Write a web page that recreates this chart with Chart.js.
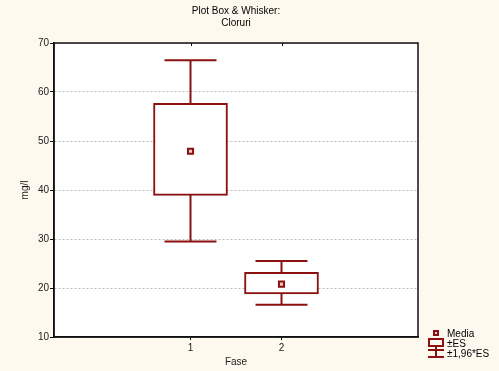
<!DOCTYPE html>
<html>
<head>
<meta charset="utf-8">
<script src="https://cdn.jsdelivr.net/npm/chart.js@4/dist/chart.umd.min.js"></script>
<style>
    body { margin: 0; background: #fdf9ef; }
    #wrap { width: 499px; height: 371px; }
</style>
</head>
<body>
<div id="wrap"><canvas id="boxChart" width="499" height="371"></canvas></div>
<script>
// values
const phases = [1, 2];
const means = [47.9, 20.8];
const esLow = [38.9, 18.8];
const esHigh = [57.7, 23.2];
const ciLow = [29.5, 16.6];
const ciHigh = [66.5, 25.5];
const yTicks = [10, 20, 30, 40, 50, 60, 70];

const RED = '#8b1010';
const FONT = "'Liberation Sans', Arial, sans-serif";

// white plot area + outer frame
const frame = {
    id: 'frame',
    beforeDraw(chart) {
        const { ctx, chartArea: a } = chart;
        ctx.save();
        ctx.fillStyle = '#fff';
        ctx.fillRect(a.left, a.top, a.right - a.left, a.bottom - a.top);
        ctx.restore();
    },
    afterDraw(chart) {
        const { ctx, chartArea: a, scales } = chart;
        ctx.save();
        ctx.strokeStyle = '#111';
        ctx.lineWidth = 1.5;
        ctx.strokeRect(a.left, a.top, a.right - a.left, a.bottom - a.top);
        // small tick marks on the top edge
        ctx.lineWidth = 1;
        phases.forEach(p => {
            const x = Math.round(scales.x.getPixelForValue(p)) + 0.5;
            ctx.beginPath();
            ctx.moveTo(x, a.top);
            ctx.lineTo(x, a.top + 3);
            ctx.stroke();
        });
        ctx.restore();
    }
};

// whiskers (±1,96*ES)
const whiskers = {
    id: 'whiskers',
    beforeDatasetsDraw(chart) {
        const { ctx, scales: { x, y } } = chart;
        ctx.save();
        ctx.strokeStyle = RED;
        ctx.lineWidth = 2;
        phases.forEach((p, i) => {
            const cx = x.getPixelForValue(p);
            const top = y.getPixelForValue(ciHigh[i]);
            const bot = y.getPixelForValue(ciLow[i]);
            ctx.beginPath();
            ctx.moveTo(cx, top);
            ctx.lineTo(cx, bot);
            ctx.moveTo(cx - 26, top);
            ctx.lineTo(cx + 26, top);
            ctx.moveTo(cx - 26, bot);
            ctx.lineTo(cx + 26, bot);
            ctx.stroke();
        });
        ctx.restore();
    }
};

// legend in the lower right corner
const legendBox = {
    id: 'legendBox',
    afterDraw(chart) {
        const ctx = chart.ctx;
        ctx.save();
        ctx.strokeStyle = RED;
        ctx.fillStyle = '#e8c8c8';
        ctx.lineWidth = 2;
        ctx.fillRect(434, 331, 4, 4);
        ctx.strokeRect(434, 331, 4, 4);
        ctx.strokeRect(429, 339, 14, 7);
        ctx.beginPath();
        ctx.moveTo(436, 346);
        ctx.lineTo(436, 357);
        ctx.moveTo(428, 350);
        ctx.lineTo(444, 350);
        ctx.moveTo(428, 357);
        ctx.lineTo(444, 357);
        ctx.stroke();
        ctx.fillStyle = '#000';
        ctx.font = '10px ' + FONT;
        ctx.textBaseline = 'middle';
        ctx.fillText('Media', 447, 334);
        ctx.fillText('±ES', 447, 344);
        ctx.fillText('±1,96*ES', 447, 354);
        ctx.restore();
    }
};

new Chart(document.getElementById('boxChart'), {
    data: {
        datasets: [{
            type: 'bar',
            label: '±ES',
            order: 2,
            data: phases.map((p, i) => ({ x: p, y: [esLow[i], esHigh[i]] })),
            backgroundColor: '#fff',
            borderColor: RED,
            borderWidth: 2,
            borderSkipped: false,
            barThickness: 74
        }, {
            type: 'scatter',
            label: 'Media',
            order: 1,
            data: phases.map((p, i) => ({ x: p, y: means[i] })),
            pointStyle: 'rect',
            pointRadius: 3.6,
            backgroundColor: '#e8c8c8',
            borderColor: RED,
            borderWidth: 2
        }]
    },
    options: {
        responsive: false,
        animation: false,
        layout: { padding: { left: 0, right: 81, top: 0, bottom: 0 } },
        plugins: {
            legend: { display: false },
            tooltip: { enabled: false },
            title: {
                display: true,
                fullSize: false,
                text: ['Plot Box & Whisker:', 'Cloruri'],
                color: '#000',
                font: { family: FONT, size: 10, weight: 'normal', lineHeight: 1.2 },
                padding: { top: 5, bottom: 14 }
            }
        },
        scales: {
            x: {
                type: 'linear',
                min: -0.5,
                max: 3.5,
                offset: false,
                afterBuildTicks: s => { s.ticks = phases.map(v => ({ value: v })); },
                afterFit: s => { s.height = 34; },
                grid: { offset: false, drawOnChartArea: false, tickLength: 3, tickColor: '#111' },
                border: { color: '#111', width: 1.5 },
                ticks: { color: '#222', padding: 2, font: { family: FONT, size: 10 } },
                title: {
                    display: true, text: 'Fase', color: '#222',
                    font: { family: FONT, size: 10 },
                    padding: { top: 0, bottom: 3 }
                }
            },
            y: {
                min: 10,
                max: 70,
                afterBuildTicks: s => { s.ticks = yTicks.map(v => ({ value: v })); },
                afterFit: s => { s.width = 54; },
                grid: { color: '#bdbdbd', tickLength: 4, tickColor: '#111', tickBorderDash: [] },
                border: { color: '#111', width: 1.5, dash: [2, 2] },
                ticks: { color: '#222', padding: 1, font: { family: FONT, size: 10 } },
                title: {
                    display: true, text: 'mg/l', color: '#222',
                    font: { family: FONT, size: 10 },
                    padding: { top: 19, bottom: 0 }
                }
            }
        }
    },
    plugins: [frame, whiskers, legendBox]
});
</script>
</body>
</html>
